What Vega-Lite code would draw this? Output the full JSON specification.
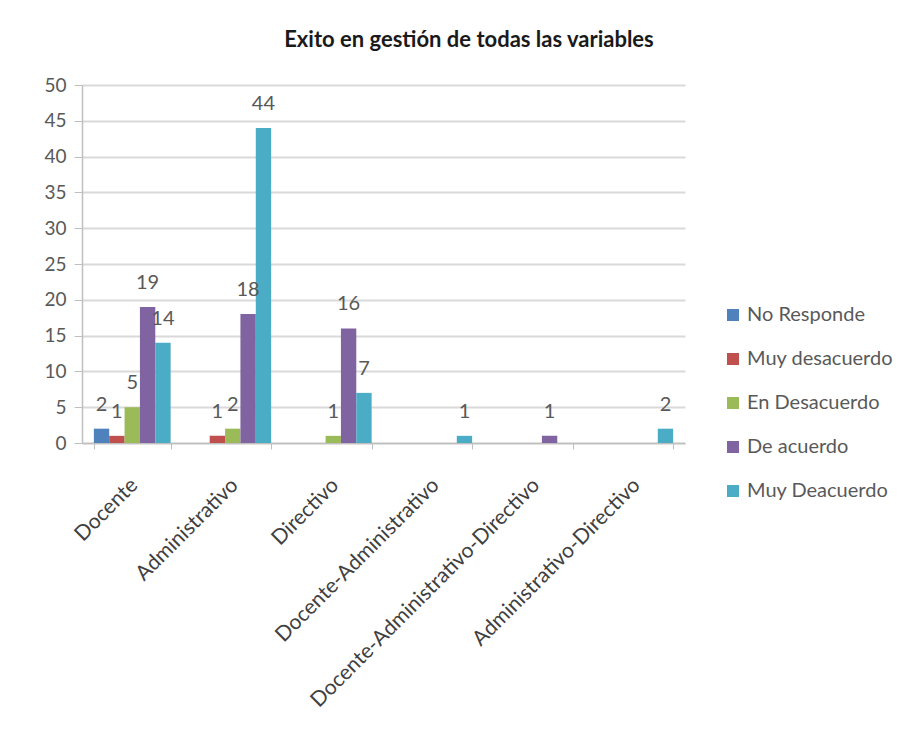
{
  "$schema": "https://vega.github.io/schema/vega-lite/v6.json",
  "width": 603,
  "height": 358,
  "autosize": "none",
  "padding": {"left": 82, "top": 85, "right": 224, "bottom": 297},
  "background": "white",
  "config": {
    "font": "Lato",
    "view": {"stroke": null},
    "axis": {"labelFont": "Lato", "labelColor": "#595959", "domainColor": "#bfbfbf", "tickColor": "#bfbfbf", "gridColor": "#d9d9d9"}
  },
  "title": {
    "text": "Exito en gestión de todas las variables",
    "fontSize": 22,
    "fontWeight": "bold",
    "color": "#1a1a1a",
    "font": "Lato",
    "anchor": "middle",
    "frame": "bounds",
    "offset": 24
  },
  "data": {
    "values": [
      {"cat": "Docente", "serie": "No Responde", "v": 2},
      {"cat": "Docente", "serie": "Muy desacuerdo", "v": 1},
      {"cat": "Docente", "serie": "En Desacuerdo", "v": 5},
      {"cat": "Docente", "serie": "De acuerdo", "v": 19},
      {"cat": "Docente", "serie": "Muy Deacuerdo", "v": 14},
      {"cat": "Administrativo", "serie": "Muy desacuerdo", "v": 1},
      {"cat": "Administrativo", "serie": "En Desacuerdo", "v": 2},
      {"cat": "Administrativo", "serie": "De acuerdo", "v": 18},
      {"cat": "Administrativo", "serie": "Muy Deacuerdo", "v": 44},
      {"cat": "Directivo", "serie": "En Desacuerdo", "v": 1},
      {"cat": "Directivo", "serie": "De acuerdo", "v": 16},
      {"cat": "Directivo", "serie": "Muy Deacuerdo", "v": 7},
      {"cat": "Docente-Administrativo", "serie": "Muy Deacuerdo", "v": 1},
      {"cat": "Docente-Administrativo-Directivo", "serie": "De acuerdo", "v": 1},
      {"cat": "Administrativo-Directivo", "serie": "Muy Deacuerdo", "v": 2}
    ]
  },
  "encoding": {
    "x": {
      "field": "cat",
      "type": "nominal",
      "sort": ["Docente", "Administrativo", "Directivo", "Docente-Administrativo", "Docente-Administrativo-Directivo", "Administrativo-Directivo"],
      "scale": {"paddingInner": 0.236, "paddingOuter": 0.118},
      "axis": {
        "title": null,
        "labelAngle": -45,
        "labelAlign": "right",
        "labelBaseline": "top",
        "labelFontSize": 21,
        "labelColor": "#404040",
        "labelPadding": 25,
        "labelOffset": -6,
        "tickBand": "extent",
        "tickSize": 6,
        "domainWidth": 1.5,
        "labelLimit": 500
      }
    },
    "xOffset": {
      "field": "serie",
      "type": "nominal",
      "sort": ["No Responde", "Muy desacuerdo", "En Desacuerdo", "De acuerdo", "Muy Deacuerdo"],
      "scale": {"domain": ["No Responde", "Muy desacuerdo", "En Desacuerdo", "De acuerdo", "Muy Deacuerdo"], "paddingInner": 0, "paddingOuter": 0}
    },
    "y": {
      "field": "v",
      "type": "quantitative",
      "scale": {"domain": [0, 50]},
      "axis": {
        "title": null,
        "values": [0, 5, 10, 15, 20, 25, 30, 35, 40, 45, 50],
        "labelFontSize": 19,
        "labelPadding": 8,
        "tickSize": 8,
        "gridWidth": 2,
        "domainWidth": 1.5
      }
    }
  },
  "layer": [
    {
      "mark": {"type": "bar"},
      "encoding": {
        "color": {
          "field": "serie",
          "type": "nominal",
          "scale": {
            "domain": ["No Responde", "Muy desacuerdo", "En Desacuerdo", "De acuerdo", "Muy Deacuerdo"],
            "range": ["#4F81BD", "#C0504D", "#9BBB59", "#8064A2", "#4BACC6"]
          },
          "legend": {
            "title": null,
            "orient": "none",
            "legendX": 641,
            "legendY": 220,
            "symbolType": "square",
            "symbolSize": 144,
            "symbolStrokeWidth": 0,
            "labelFontSize": 20,
            "labelColor": "#595959",
            "labelFont": "Lato",
            "rowPadding": 24,
            "labelOffset": 4,
            "labelLimit": 300
          }
        }
      }
    },
    {
      "mark": {"type": "text", "baseline": "middle", "dy": -24, "fontSize": 20, "color": "#595959", "font": "Lato"},
      "encoding": {
        "text": {"field": "v", "type": "quantitative"}
      }
    }
  ]
}
